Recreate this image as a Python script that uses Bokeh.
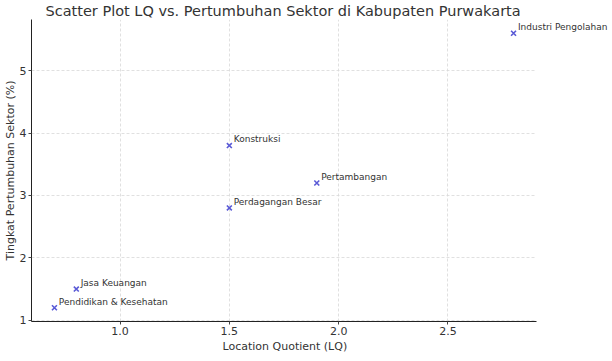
from bokeh.plotting import figure
from bokeh.models import FixedTicker, Range1d, Label, Grid, Title
from bokeh.embed import file_html
from bokeh.resources import INLINE

sectors = ["Industri Pengolahan", "Perdagangan Besar", "Konstruksi",
           "Pertambangan", "Jasa Keuangan", "Pendidikan & Kesehatan"]
lq = [2.8, 1.5, 1.5, 1.9, 0.8, 0.7]
growth = [5.6, 2.8, 3.8, 3.2, 1.5, 1.2]

x_ticks = [1.0, 1.5, 2.0, 2.5]
x_tick_labels = ["1.0", "1.5", "2.0", "2.5"]
y_ticks = [1, 2, 3, 4, 5]
y_tick_labels = ["1", "2", "3", "4", "5"]

FONT = "DejaVu Sans"
GRID_COLOR = "#d8d8d8"

# matplotlib-like 5% margins
xmin, xmax = min(lq), max(lq)
ymin, ymax = min(growth), max(growth)
xm = (xmax - xmin) * 0.05
ym = (ymax - ymin) * 0.05
x0, x1 = xmin - xm, xmax + xm

# the axes box is 505 px wide; the frame is widened to the right so that
# text labels beyond the axes are not clipped
AXES_W = 505
FRAME_W = 580
x_end = x0 + (x1 - x0) * FRAME_W / AXES_W

p = figure(frame_width=FRAME_W, frame_height=302, output_backend="svg", toolbar_location=None,
           x_range=Range1d(x0, x_end), y_range=Range1d(ymin - ym, ymax + ym),
           min_border_left=20, min_border_right=0, min_border_top=0, min_border_bottom=0)

p.title.text = "Scatter Plot LQ vs. Pertumbuhan Sektor di Kabupaten Purwakarta"
p.title.align = "left"
p.title.offset = 14
p.title.text_font = FONT
p.title.text_font_size = "14.5px"
p.title.text_font_style = "normal"
p.title.text_color = "#333333"
p.title.standoff = 1

p.outline_line_color = None
p.background_fill_color = "white"
p.border_fill_color = "white"

# grid
p.xgrid.grid_line_color = GRID_COLOR
p.xgrid.grid_line_dash = "3 2"
p.xgrid.grid_line_width = 0.8
p.xgrid.ticker = FixedTicker(ticks=x_ticks)

if "cross_bounds" in Grid.properties():
    p.ygrid.cross_bounds = (x0, x1)
    p.ygrid.grid_line_color = GRID_COLOR
    p.ygrid.grid_line_dash = "3 2"
    p.ygrid.grid_line_width = 0.8
    p.ygrid.ticker = FixedTicker(ticks=y_ticks)
else:
    p.ygrid.visible = False
    p.segment(x0=[x0] * len(y_ticks), y0=y_ticks, x1=[x1] * len(y_ticks), y1=y_ticks,
              line_color=GRID_COLOR, line_dash="3 2", line_width=0.8, level="underlay")

p.scatter(lq, growth, marker="x", size=7, line_width=1.6, color="#5a5ad6")

for name, x, y in zip(sectors, lq, growth):
    p.add_layout(Label(x=x + 0.02, y=y + 0.1, text=name,
                       text_font=FONT, text_font_size="9px", text_color="#333333",
                       text_baseline="alphabetic", text_align="left"))

for ax in (p.xaxis[0], p.yaxis[0]):
    ax.axis_line_color = "#222222"
    ax.axis_line_width = 1
    ax.major_tick_out = 3
    ax.major_tick_in = 0
    ax.minor_tick_out = 0
    ax.minor_tick_in = 0
    ax.major_tick_line_color = "#444444"
    ax.major_label_text_font = FONT
    ax.major_label_text_font_size = "11px"
    ax.major_label_text_color = "#333333"
    ax.axis_label_text_font = FONT
    ax.axis_label_text_font_size = "11px"
    ax.axis_label_text_font_style = "normal"
    ax.axis_label_text_color = "#333333"
    ax.major_label_standoff = 2
    ax.axis_label_standoff = 0

p.xaxis.bounds = (x0, x1)
p.yaxis.axis_label = "Tingkat Pertumbuhan Sektor (%)"
p.xaxis.ticker = FixedTicker(ticks=x_ticks)
p.yaxis.ticker = FixedTicker(ticks=y_ticks)
p.xaxis.major_label_overrides = dict(zip(x_ticks, x_tick_labels))
p.yaxis.major_label_overrides = dict(zip(y_ticks, y_tick_labels))

# x-axis title, centred under the axes box rather than the widened frame
p.add_layout(Title(text="Location Quotient (LQ)", align="left", offset=191,
                   text_font=FONT, text_font_size="11px", text_font_style="normal",
                   text_color="#333333", standoff=0), "below")

open("out.html", "w").write(file_html(p, INLINE))
